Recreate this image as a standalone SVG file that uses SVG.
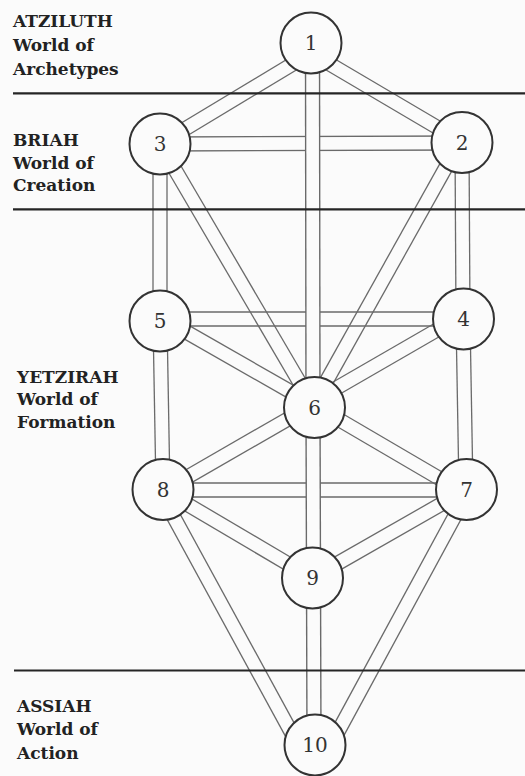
<svg xmlns="http://www.w3.org/2000/svg" width="525" height="776" viewBox="0 0 525 776">
<style>
.bg{fill:#fbfbfb}
.pl{stroke:#6a6a6a;stroke-width:1.3;fill:none}
.vo{stroke:#6a6a6a;stroke-width:15.4;fill:none}
.vi{stroke:#fbfbfb;stroke-width:12.6;fill:none}
.world{stroke:#252525;stroke-width:2.2}
.node circle{fill:#fbfbfb;stroke:#333;stroke-width:2}
.node text{font-family:"DejaVu Serif","Liberation Serif",serif;font-size:20px;fill:#333;text-anchor:middle}
.lab{font-family:"DejaVu Serif","Liberation Serif",serif;font-size:17px;font-weight:bold;fill:#222}
</style>
<rect class="bg" x="0" y="0" width="525" height="776"/>

<g id="connectors">
  <g id="p1-3" class="pl"><line x1="307.39" y1="47.00" x2="156.39" y2="138.00"/><line x1="314.61" y1="59.00" x2="163.61" y2="150.00"/></g>
  <g id="p1-2" class="pl"><line x1="307.45" y1="59.03" x2="458.45" y2="148.03"/><line x1="314.55" y1="46.97" x2="465.55" y2="135.97"/></g>
  <g id="p2-3" class="pl"><line x1="160" y1="137" x2="462" y2="136"/><line x1="160" y1="151" x2="462" y2="150"/></g>
  <g id="p2-4" class="pl"><line x1="455" y1="142" x2="456" y2="319"/><line x1="469" y1="142" x2="470" y2="319"/></g>
  <g id="p2-6" class="pl"><line x1="453.89" y1="138.59" x2="305.89" y2="403.59"/><line x1="466.11" y1="145.41" x2="318.11" y2="410.41"/></g>
  <g id="p3-5" class="pl"><line x1="153" y1="144" x2="153" y2="321"/><line x1="167" y1="144" x2="167" y2="321"/></g>
  <g id="p3-6" class="pl"><line x1="153.96" y1="147.54" x2="307.96" y2="410.54"/><line x1="166.04" y1="140.46" x2="320.04" y2="403.46"/></g>
  <g id="p4-5" class="pl"><line x1="160" y1="312" x2="463" y2="312"/><line x1="160" y1="326" x2="463" y2="326"/></g>
  <g id="p4-6" class="pl"><line x1="459.50" y1="308.94" x2="310.50" y2="394.94"/><line x1="466.50" y1="321.06" x2="317.50" y2="407.06"/></g>
  <g id="p4-7" class="pl"><line x1="456" y1="319" x2="459" y2="490"/><line x1="470" y1="319" x2="473" y2="490"/></g>
  <g id="p5-6" class="pl"><line x1="156.53" y1="323.08" x2="310.53" y2="411.08"/><line x1="163.47" y1="310.92" x2="317.47" y2="398.92"/></g>
  <g id="p5-8" class="pl"><line x1="153" y1="321" x2="156" y2="490"/><line x1="167" y1="321" x2="170" y2="490"/></g>
  <g id="p6-7" class="pl"><line x1="310.46" y1="411.04" x2="462.46" y2="500.04"/><line x1="317.54" y1="398.96" x2="469.54" y2="487.96"/></g>
  <g id="p6-8" class="pl"><line x1="310.51" y1="397.94" x2="159.51" y2="484.94"/><line x1="317.50" y1="410.07" x2="166.50" y2="497.07"/></g>
  <g id="p7-8" class="pl"><line x1="163" y1="483" x2="466" y2="483"/><line x1="163" y1="497" x2="466" y2="497"/></g>
  <g id="p7-9" class="pl"><line x1="462.53" y1="483.92" x2="308.53" y2="571.92"/><line x1="469.47" y1="496.08" x2="315.47" y2="584.08"/></g>
  <g id="p8-9" class="pl"><line x1="159.44" y1="496.03" x2="308.44" y2="584.03"/><line x1="166.56" y1="483.97" x2="315.56" y2="571.97"/></g>
  <g id="p8-10" class="pl"><line x1="152.86" y1="493.35" x2="292.05" y2="748.35"/><line x1="165.14" y1="486.65" x2="304.33" y2="741.65"/></g>
  <g id="p7-10" class="pl"><line x1="462.86" y1="486.65" x2="324.66" y2="741.65"/><line x1="475.14" y1="493.35" x2="336.94" y2="748.35"/></g>
  <g id="p1-6"><line class="vo" x1="312.5" y1="43" x2="313" y2="407"/><line class="vi" x1="312.5" y1="43" x2="313" y2="407"/></g>
  <g id="p6-9"><line class="vo" x1="313" y1="407" x2="313.5" y2="578"/><line class="vi" x1="313" y1="407" x2="313.5" y2="578"/></g>
  <g id="p9-10"><line class="vo" x1="313.5" y1="578" x2="314" y2="745"/><line class="vi" x1="313.5" y1="578" x2="314" y2="745"/></g>
</g>

<g id="worlds">
  <line class="world" x1="13" y1="93.3" x2="525" y2="93.3"/>
  <line class="world" x1="13" y1="209.3" x2="525" y2="209.3"/>
  <line class="world" x1="14" y1="670.5" x2="525" y2="670.5"/>
</g>

<g id="labels">
  <text class="lab" x="13" y="27">ATZILUTH</text>
  <text class="lab" x="13" y="51">World of</text>
  <text class="lab" x="13" y="74.5">Archetypes</text>
  <text class="lab" x="13" y="146">BRIAH</text>
  <text class="lab" x="13" y="168.5">World of</text>
  <text class="lab" x="13" y="191">Creation</text>
  <text class="lab" x="17" y="383">YETZIRAH</text>
  <text class="lab" x="17" y="405">World of</text>
  <text class="lab" x="17" y="428">Formation</text>
  <text class="lab" x="17" y="712">ASSIAH</text>
  <text class="lab" x="17" y="735">World of</text>
  <text class="lab" x="17" y="759">Action</text>
</g>

<g id="n1" class="node"><circle cx="311" cy="43" r="30.5"/><text x="311" y="50">1</text></g>
<g id="n2" class="node"><circle cx="462" cy="142.5" r="30.5"/><text x="462" y="149.5">2</text></g>
<g id="n3" class="node"><circle cx="160" cy="144" r="30.5"/><text x="160" y="151">3</text></g>
<g id="n4" class="node"><circle cx="463.5" cy="319" r="30.5"/><text x="463.5" y="326">4</text></g>
<g id="n5" class="node"><circle cx="160" cy="321" r="30.5"/><text x="160" y="328">5</text></g>
<g id="n6" class="node"><circle cx="314.5" cy="407.5" r="30.5"/><text x="314.5" y="414.5">6</text></g>
<g id="n7" class="node"><circle cx="466.5" cy="489.5" r="30.5"/><text x="466.5" y="496.5">7</text></g>
<g id="n8" class="node"><circle cx="163" cy="489.5" r="30.5"/><text x="163" y="496.5">8</text></g>
<g id="n9" class="node"><circle cx="312.5" cy="578" r="30.5"/><text x="312.5" y="585">9</text></g>
<g id="n10" class="node"><circle cx="315" cy="745" r="30.5"/><text x="315" y="752">10</text></g>
</svg>
